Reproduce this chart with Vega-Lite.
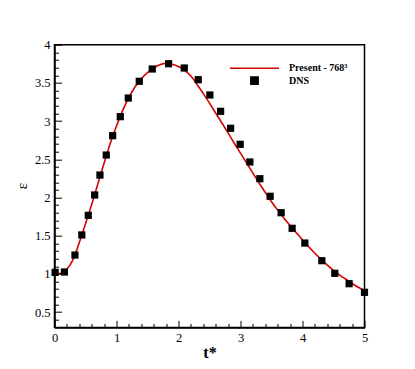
{
  "$schema": "https://vega.github.io/schema/vega-lite/v6.json",
  "width": 310,
  "height": 282.7,
  "autosize": {"type": "none"},
  "padding": {"left": 54.5, "top": 44.7, "right": 50.5, "bottom": 41.6},
  "background": "white",
  "config": {
    "view": {"stroke": "black", "strokeWidth": 1.5},
    "axis": {
      "labelFont": "Liberation Serif",
      "titleFont": "Liberation Serif",
      "labelFontSize": 12.5,
      "labelColor": "black",
      "titleColor": "black",
      "domainColor": "black",
      "domainWidth": 1.5,
      "tickColor": "black",
      "tickWidth": 1,
      "grid": false
    },
    "legend": {
      "labelFont": "Liberation Serif",
      "labelFontWeight": "bold",
      "labelFontSize": 10,
      "labelColor": "black"
    }
  },
  "datasets": {
    "present": [
      {"t": 0.0, "eps": 1.0, "series": "Present - 768³"},
      {"t": 0.1, "eps": 1.01, "series": "Present - 768³"},
      {"t": 0.2, "eps": 1.06, "series": "Present - 768³"},
      {"t": 0.3, "eps": 1.19, "series": "Present - 768³"},
      {"t": 0.4, "eps": 1.41, "series": "Present - 768³"},
      {"t": 0.5, "eps": 1.655, "series": "Present - 768³"},
      {"t": 0.6, "eps": 1.91, "series": "Present - 768³"},
      {"t": 0.7, "eps": 2.18, "series": "Present - 768³"},
      {"t": 0.8, "eps": 2.45, "series": "Present - 768³"},
      {"t": 0.9, "eps": 2.71, "series": "Present - 768³"},
      {"t": 1.0, "eps": 2.935, "series": "Present - 768³"},
      {"t": 1.1, "eps": 3.14, "series": "Present - 768³"},
      {"t": 1.2, "eps": 3.31, "series": "Present - 768³"},
      {"t": 1.3, "eps": 3.45, "series": "Present - 768³"},
      {"t": 1.4, "eps": 3.555, "series": "Present - 768³"},
      {"t": 1.5, "eps": 3.635, "series": "Present - 768³"},
      {"t": 1.6, "eps": 3.695, "series": "Present - 768³"},
      {"t": 1.7, "eps": 3.737, "series": "Present - 768³"},
      {"t": 1.8, "eps": 3.755, "series": "Present - 768³"},
      {"t": 1.9, "eps": 3.745, "series": "Present - 768³"},
      {"t": 2.0, "eps": 3.715, "series": "Present - 768³"},
      {"t": 2.1, "eps": 3.665, "series": "Present - 768³"},
      {"t": 2.2, "eps": 3.59, "series": "Present - 768³"},
      {"t": 2.3, "eps": 3.48, "series": "Present - 768³"},
      {"t": 2.4, "eps": 3.36, "series": "Present - 768³"},
      {"t": 2.5, "eps": 3.235, "series": "Present - 768³"},
      {"t": 2.6, "eps": 3.105, "series": "Present - 768³"},
      {"t": 2.7, "eps": 2.975, "series": "Present - 768³"},
      {"t": 2.8, "eps": 2.845, "series": "Present - 768³"},
      {"t": 2.9, "eps": 2.71, "series": "Present - 768³"},
      {"t": 3.0, "eps": 2.58, "series": "Present - 768³"},
      {"t": 3.1, "eps": 2.45, "series": "Present - 768³"},
      {"t": 3.2, "eps": 2.32, "series": "Present - 768³"},
      {"t": 3.3, "eps": 2.19, "series": "Present - 768³"},
      {"t": 3.4, "eps": 2.065, "series": "Present - 768³"},
      {"t": 3.5, "eps": 1.945, "series": "Present - 768³"},
      {"t": 3.6, "eps": 1.835, "series": "Present - 768³"},
      {"t": 3.7, "eps": 1.73, "series": "Present - 768³"},
      {"t": 3.8, "eps": 1.635, "series": "Present - 768³"},
      {"t": 3.9, "eps": 1.54, "series": "Present - 768³"},
      {"t": 4.0, "eps": 1.445, "series": "Present - 768³"},
      {"t": 4.1, "eps": 1.355, "series": "Present - 768³"},
      {"t": 4.2, "eps": 1.27, "series": "Present - 768³"},
      {"t": 4.3, "eps": 1.19, "series": "Present - 768³"},
      {"t": 4.4, "eps": 1.115, "series": "Present - 768³"},
      {"t": 4.5, "eps": 1.045, "series": "Present - 768³"},
      {"t": 4.6, "eps": 0.985, "series": "Present - 768³"},
      {"t": 4.7, "eps": 0.93, "series": "Present - 768³"},
      {"t": 4.8, "eps": 0.875, "series": "Present - 768³"},
      {"t": 4.9, "eps": 0.825, "series": "Present - 768³"},
      {"t": 5.0, "eps": 0.78, "series": "Present - 768³"}
    ],
    "dns": [
      {"t": 0.01, "eps": 1.02, "series": "DNS"},
      {"t": 0.16, "eps": 1.025, "series": "DNS"},
      {"t": 0.33, "eps": 1.247, "series": "DNS"},
      {"t": 0.44, "eps": 1.51, "series": "DNS"},
      {"t": 0.545, "eps": 1.767, "series": "DNS"},
      {"t": 0.648, "eps": 2.033, "series": "DNS"},
      {"t": 0.733, "eps": 2.294, "series": "DNS"},
      {"t": 0.835, "eps": 2.556, "series": "DNS"},
      {"t": 0.938, "eps": 2.809, "series": "DNS"},
      {"t": 1.061, "eps": 3.058, "series": "DNS"},
      {"t": 1.19, "eps": 3.302, "series": "DNS"},
      {"t": 1.367, "eps": 3.521, "series": "DNS"},
      {"t": 1.577, "eps": 3.682, "series": "DNS"},
      {"t": 1.84, "eps": 3.751, "series": "DNS"},
      {"t": 2.093, "eps": 3.695, "series": "DNS"},
      {"t": 2.318, "eps": 3.542, "series": "DNS"},
      {"t": 2.506, "eps": 3.342, "series": "DNS"},
      {"t": 2.679, "eps": 3.128, "series": "DNS"},
      {"t": 2.84, "eps": 2.906, "series": "DNS"},
      {"t": 2.995, "eps": 2.696, "series": "DNS"},
      {"t": 3.151, "eps": 2.465, "series": "DNS"},
      {"t": 3.312, "eps": 2.246, "series": "DNS"},
      {"t": 3.478, "eps": 2.016, "series": "DNS"},
      {"t": 3.656, "eps": 1.801, "series": "DNS"},
      {"t": 3.833, "eps": 1.597, "series": "DNS"},
      {"t": 4.038, "eps": 1.404, "series": "DNS"},
      {"t": 4.312, "eps": 1.173, "series": "DNS"},
      {"t": 4.521, "eps": 1.008, "series": "DNS"},
      {"t": 4.752, "eps": 0.872, "series": "DNS"},
      {"t": 5.0, "eps": 0.759, "series": "DNS"}
    ]
  },
  "encoding": {
    "x": {
      "field": "t",
      "type": "quantitative",
      "scale": {"domain": [0, 5], "nice": false, "zero": false},
      "axis": {
        "title": "t*",
        "titleFontSize": 16,
        "titleFontWeight": "bold",
        "titleY": 30,
        "titleBaseline": "alphabetic",
        "values": [0, 0.2, 0.4, 0.6, 0.8, 1, 1.2, 1.4, 1.6, 1.8, 2, 2.2, 2.4, 2.6, 2.8, 3, 3.2, 3.4, 3.6, 3.8, 4, 4.2, 4.4, 4.6, 4.8, 5],
        "format": "~g",
        "labelExpr": "abs(datum.value - round(datum.value)) < 0.001 ? datum.label : ''",
        "tickSize": {"condition": {"test": "abs(datum.value - round(datum.value)) < 0.001", "value": -7}, "value": -4},
        "labelPadding": 11,
        "labelFlush": false,
        "labelOverlap": false
      }
    },
    "y": {
      "field": "eps",
      "type": "quantitative",
      "scale": {"domain": [0.3, 4], "nice": false, "zero": false},
      "axis": {
        "title": "ε",
        "titleFontSize": 15,
        "titleFontWeight": "normal",
        "titleAngle": -90,
        "titleX": -33,
        "titleY": 141,
        "titleAlign": "center",
        "titleBaseline": "middle",
        "values": [0.4, 0.5, 0.6, 0.7, 0.8, 0.9, 1, 1.1, 1.2, 1.3, 1.4, 1.5, 1.6, 1.7, 1.8, 1.9, 2, 2.1, 2.2, 2.3, 2.4, 2.5, 2.6, 2.7, 2.8, 2.9, 3, 3.1, 3.2, 3.3, 3.4, 3.5, 3.6, 3.7, 3.8, 3.9, 4],
        "format": "~g",
        "labelExpr": "abs(datum.value * 2 - round(datum.value * 2)) < 0.001 ? datum.label : ''",
        "tickSize": {"condition": {"test": "abs(datum.value * 2 - round(datum.value * 2)) < 0.001", "value": -7}, "value": -4},
        "labelPadding": 11.5,
        "labelFlush": false,
        "labelOverlap": false
      }
    }
  },
  "layer": [
    {
      "data": {"name": "present"},
      "mark": {"type": "line", "interpolate": "monotone", "strokeWidth": 1.6},
      "encoding": {
        "color": {
          "field": "series",
          "type": "nominal",
          "scale": {"domain": ["Present - 768³", "DNS"], "range": ["#d40000", "black"]},
          "legend": {
            "title": null,
            "orient": "none",
            "legendX": 174.5,
            "legendY": -2,
            "symbolStrokeWidth": 1.6,
            "labelOffset": 9,
            "rowPadding": 0,
            "encode": {"symbols": {"update": {
              "stroke": {"signal": "datum.value == 'DNS' ? 'transparent' : '#d40000'"},
              "size": {"signal": "datum.value == 'DNS' ? 52 : 2401"}
            }}}
          }
        }
      }
    },
    {
      "data": {"name": "dns"},
      "mark": {"type": "point", "filled": true, "opacity": 1, "strokeWidth": 0},
      "encoding": {
        "color": {"field": "series", "type": "nominal"},
        "shape": {
          "field": "series",
          "type": "nominal",
          "scale": {"domain": ["Present - 768³", "DNS"], "range": ["stroke", "square"]}
        },
        "size": {
          "field": "series",
          "type": "nominal",
          "scale": {"type": "ordinal", "domain": ["Present - 768³", "DNS"], "range": [2401, 52]}
        }
      }
    }
  ]
}
